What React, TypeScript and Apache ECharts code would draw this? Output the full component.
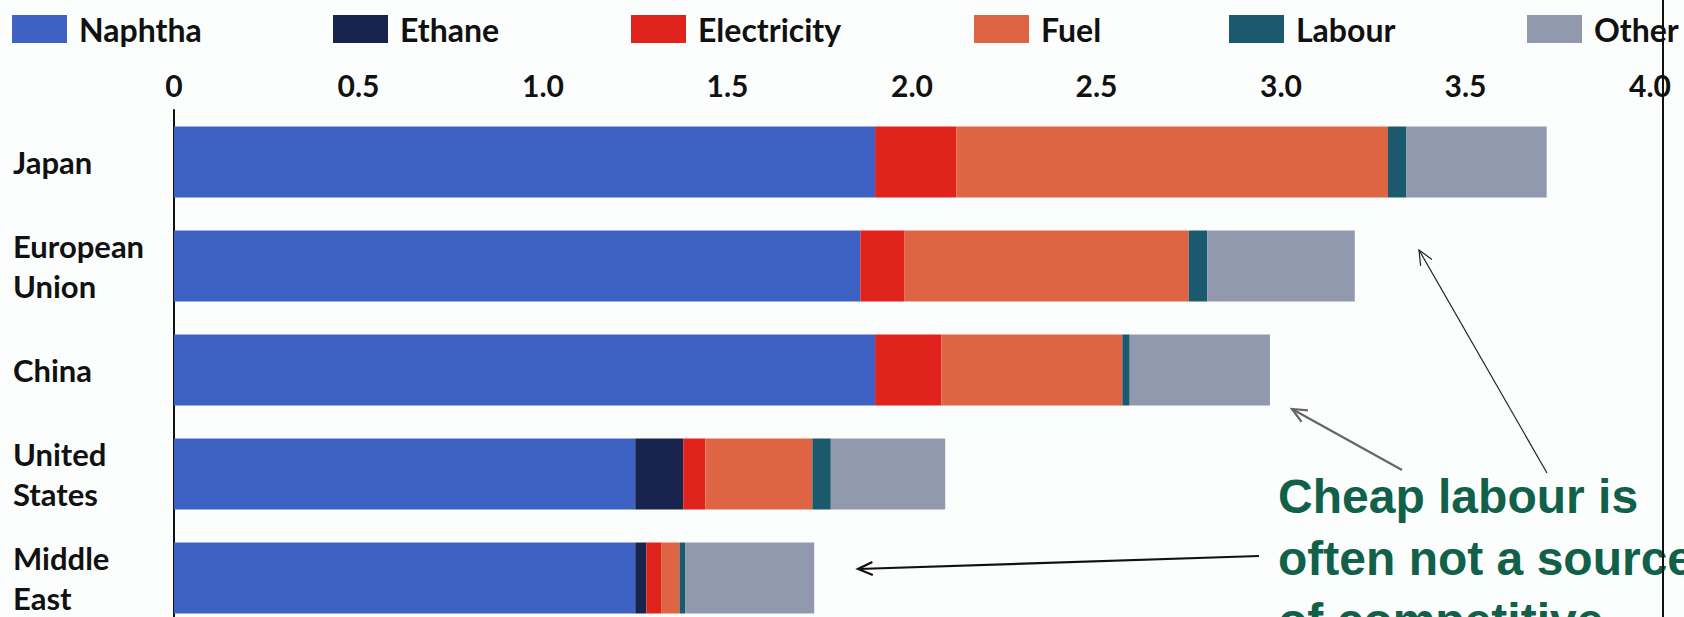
import React, { useEffect, useRef } from "react";
import * as echarts from "echarts";

const categories = ["Japan", "European\nUnion", "China", "United\nStates", "Middle\nEast"];
const seriesNames = ["Naphtha", "Ethane", "Electricity", "Fuel", "Labour", "Other"];
const naphtha = [1.9, 1.86, 1.9, 1.25, 1.25];
const ethane = [0, 0, 0, 0.13, 0.03];
const electricity = [0.22, 0.12, 0.18, 0.06, 0.04];
const fuel = [1.17, 0.77, 0.49, 0.29, 0.05];
const labour = [0.05, 0.05, 0.02, 0.05, 0.015];
const other = [0.38, 0.4, 0.38, 0.31, 0.35];
const annotationLines = ["Cheap labour is", "often not a source", "of competitive"];

const colors = ["#3d62c4", "#18244e", "#e0221c", "#df6443", "#1b5a6e", "#9199ae"];
const legendLefts = [12, 333, 631, 974, 1229, 1527];

const FONT = "Lato, 'DejaVu Sans', sans-serif";

function arrow(x1: number, y1: number, x2: number, y2: number, color: string, width: number, head: number) {
  const a = Math.atan2(y2 - y1, x2 - x1);
  const s = 0.42;
  return [
    { type: "line", z: 50, shape: { x1, y1, x2, y2 }, style: { stroke: color, lineWidth: width } },
    {
      type: "polyline",
      z: 50,
      shape: {
        points: [
          [x2 - head * Math.cos(a - s), y2 - head * Math.sin(a - s)],
          [x2, y2],
          [x2 - head * Math.cos(a + s), y2 - head * Math.sin(a + s)],
        ],
      },
      style: { stroke: color, lineWidth: width, fill: "none" },
    },
  ];
}

export default function App() {
  const ref = useRef<HTMLDivElement>(null);
  useEffect(() => {
    document.body.style.margin = "0";
    const chart = echarts.init(ref.current!, null, { renderer: "svg" });
    const values = [naphtha, ethane, electricity, fuel, labour, other];
    const option: any = {
      animation: false,
      backgroundColor: "#fcfdfd",
      legend: seriesNames.map((n, i) => ({
        data: [n],
        left: legendLefts[i],
        top: 13,
        padding: 0,
        itemWidth: 55,
        itemHeight: 28,
        icon: "rect",
        selectedMode: false,
        textStyle: { fontSize: 32, fontWeight: "bold", color: "#111", fontFamily: FONT, padding: [0, 0, 0, 7] },
      })),
      grid: { left: 174, top: 110, width: 1476, height: 520, containLabel: false },
      xAxis: {
        type: "value",
        position: "top",
        min: 0,
        max: 4,
        interval: 0.5,
        axisLine: { show: false },
        axisTick: { show: false },
        splitLine: { show: false },
        axisLabel: {
          fontSize: 30,
          fontWeight: "bold",
          color: "#111",
          fontFamily: FONT,
          margin: 10,
          formatter: (v: number) => (v === 0 ? "0" : v.toFixed(1)),
        },
      },
      yAxis: {
        type: "category",
        inverse: true,
        data: categories,
        axisLine: { show: true, lineStyle: { color: "#111", width: 2 } },
        axisTick: { show: false },
        axisLabel: {
          align: "left",
          margin: 161,
          fontSize: 31,
          fontWeight: "bold",
          lineHeight: 40,
          color: "#111",
          fontFamily: FONT,
        },
      },
      series: seriesNames.map((n, i) => ({
        name: n,
        type: "bar",
        stack: "total",
        barWidth: 71,
        itemStyle: { color: colors[i] },
        data: values[i],
      })),
      graphic: [
        ...annotationLines.map((t, i) => ({
          type: "text",
          z: 50,
          x: 1278,
          y: 496 + i * 62,
          style: {
            text: t,
            fill: "#10604a",
            font: "bold 48px 'Liberation Sans', Arial, sans-serif",
            verticalAlign: "middle",
            align: "left",
          },
        })),
        ...arrow(1547, 473, 1419, 250, "#222", 1.2, 16),
        ...arrow(1402, 470, 1292, 409, "#666", 2.2, 16),
        ...arrow(1259, 556, 858, 569, "#111", 2.2, 16),
        { type: "line", z: 60, shape: { x1: 1663, y1: 0, x2: 1663, y2: 640 }, style: { stroke: "#111", lineWidth: 2 } },
      ],
    };
    chart.setOption(option);
    return () => chart.dispose();
  }, []);
  return (
    <div style={{ width: 1684, height: 617, overflow: "hidden" }}>
      <div ref={ref} style={{ width: 1684, height: 640 }} />
    </div>
  );
}
